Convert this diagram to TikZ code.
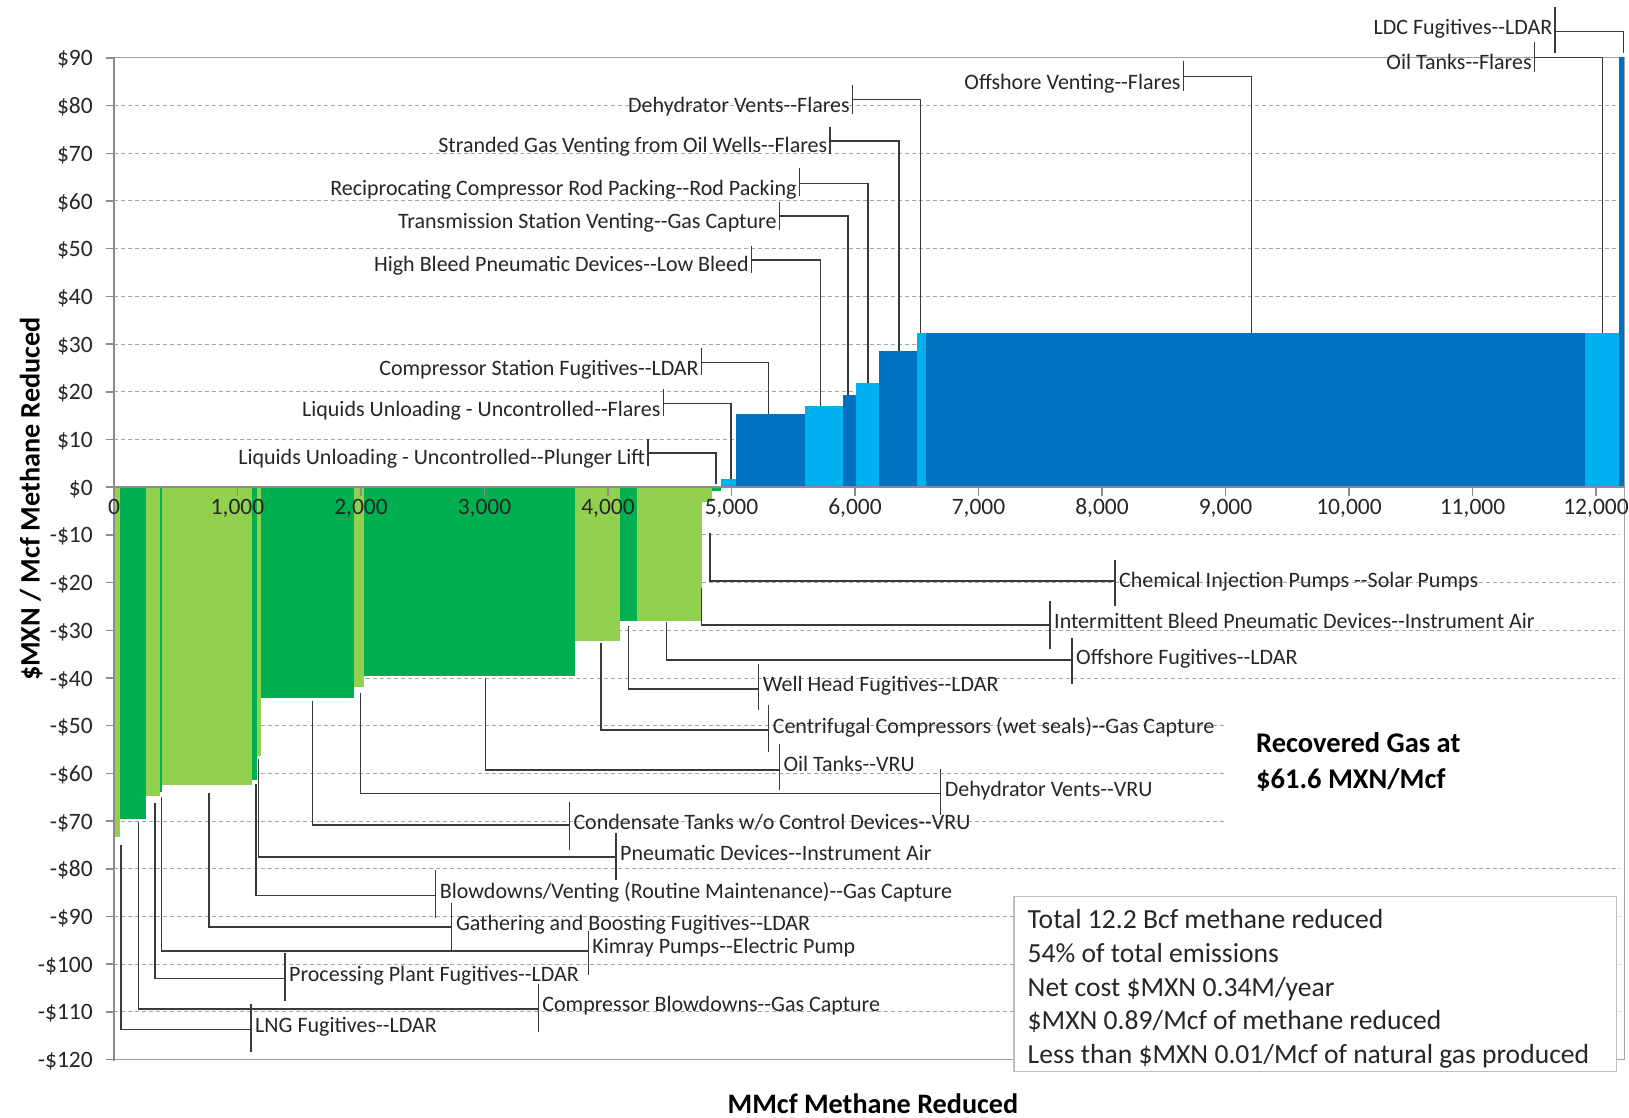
\documentclass[tikz,border=0pt]{standalone}
\usepackage{fontspec}
\setmainfont{Carlito}[Ligatures=TeXOff]
\definecolor{dgreen}{HTML}{00B050}
\definecolor{lgreen}{HTML}{92D050}
\definecolor{dblue}{HTML}{0070C0}
\definecolor{lblue}{HTML}{00B0F0}
\definecolor{axgray}{HTML}{8C8C8C}
\definecolor{grdgray}{HTML}{A6A6A6}
\definecolor{ldgray}{HTML}{3A3A3A}
\definecolor{txtgray}{HTML}{262626}
\newcommand{\lblsize}{\fontsize{22}{24}\selectfont}
\newcommand{\TopLbl}[9]{%
  \node[lbl, anchor=base east] (#1) at ({#3-2.5},#6) {#2};
  \coordinate (#1-tt) at (#3,#4);
  \coordinate (#1-tb) at (#3,#5);
  \coordinate (#1-j) at (#3,#7);
  \coordinate (#1-bar) at (#8,#9);
  \draw[tk] (#1-tt) -- (#1-tb);
  \draw[ld] (#1-j) -| (#1-bar);}
\newcommand{\BotLbl}[9]{%
  \node[lbl, anchor=base west] (#1) at ({#3+4},#6) {#2};
  \coordinate (#1-tt) at (#3,#4);
  \coordinate (#1-tb) at (#3,#5);
  \coordinate (#1-j) at (#3,#7);
  \coordinate (#1-bar) at (#8,#9);
  \draw[tk] (#1-tt) -- (#1-tb);
  \draw[ld] (#1-j) -| (#1-bar);}
\begin{document}
\begin{tikzpicture}[x=1pt,y=-1pt,
  lbl/.style={inner sep=0pt, font=\lblsize, text=txtgray},
  tk/.style={draw=ldgray, line width=1.3pt},
  ld/.style={draw=ldgray, line width=1.3pt},
  grid/.style={draw=grdgray, line width=1pt, dash pattern=on 4pt off 3pt},
  axline/.style={draw=axgray, line width=2.2pt},
  frameline/.style={draw=axgray!80, line width=1.5pt},
  ticklbl/.style={inner sep=0pt, font=\fontsize{23.5}{25}\selectfont, text=txtgray},
  title/.style={inner sep=0pt, font=\fontsize{28.2}{30}\selectfont\bfseries, text=black},
  boxtxt/.style={inner sep=0pt, anchor=base west, font=\fontsize{27.6}{30}\selectfont, text=txtgray},
  recov/.style={inner sep=0pt, anchor=base west, font=\fontsize{28.5}{30}\selectfont\bfseries, text=black}]
\useasboundingbox (0,0) rectangle (1629,1118);
\fill[white] (0,0) rectangle (1629,1118);

% gridlines
\foreach \c in {80,70,...,-110} {
  \draw[grid] (113.6,{487.2-4.77*\c}) -- (1620,{487.2-4.77*\c});
}

% negative (green) bars
\fill[lgreen] (114.5,487.2) rectangle (120.2,836.7);
\fill[dgreen] (120.2,487.2) rectangle (145.5,818.7);
\fill[lgreen] (145.5,487.2) rectangle (159.8,795.6);
\fill[dgreen] (159.8,487.2) rectangle (162.0,791.7);
\fill[lgreen] (162.0,487.2) rectangle (251.8,785.0);
\fill[dgreen] (251.8,487.2) rectangle (257.2,779.8);
\fill[lgreen] (257.2,487.2) rectangle (261.0,755.5);
\fill[dgreen] (261.0,487.2) rectangle (353.6,697.8);
\fill[lgreen] (353.6,487.2) rectangle (364.3,687.4);
\fill[dgreen] (364.3,487.2) rectangle (574.8,675.5);
\fill[lgreen] (574.8,487.2) rectangle (620.2,640.8);
\fill[dgreen] (620.2,487.2) rectangle (636.9,621.0);
\fill[lgreen] (636.9,487.2) rectangle (701.6,621.0);
\fill[lgreen] (701.6,487.2) rectangle (711.8,501.7);
\fill[dgreen] (711.8,487.2) rectangle (720.5,490.5);

% positive (blue) bars
\fill[lblue] (720.5,487.2) rectangle (735.7,478.5);
\fill[dblue] (735.7,487.2) rectangle (805.4,413.6);
\fill[lblue] (805.4,487.2) rectangle (842.9,406.0);
\fill[dblue] (842.9,487.2) rectangle (856.1,395.4);
\fill[lblue] (856.1,487.2) rectangle (879.3,383.2);
\fill[dblue] (879.3,487.2) rectangle (916.8,351.0);
\fill[lblue] (916.8,487.2) rectangle (925.7,332.9);
\fill[dblue] (925.7,487.2) rectangle (1585.3,332.9);
\fill[lblue] (1585.3,487.2) rectangle (1619.0,332.9);
\fill[dblue] (1619.0,487.2) rectangle (1624.5,57.3);

% white area behind the "Recovered Gas" note
\fill[white] (1227,688) rectangle (1620.5,848);

% plot frame and axes
\draw[frameline] (113.6,57.3) -- (1619,57.3);
\draw[frameline] (1624.5,57.3) -- (1624.5,1059.7);
\draw[frameline] (113.6,1059.7) -- (1624.5,1059.7);
\draw[axgray, line width=1.6pt] (113.6,487.2) -- (1624.5,487.2);
\draw[axline] (113.6,57.3) -- (113.6,1060.8);
\foreach \c in {90,80,...,-120} {
  \draw[axgray, line width=1.5pt] (106.4,{487.2-4.77*\c}) -- (113.6,{487.2-4.77*\c});
  \pgfmathtruncatemacro{\a}{abs(\c)}
  \node[ticklbl, anchor=base east] (yl\a\ifnum\c<0 n\fi) at (93,{487.2-4.77*\c+8}) {\ifnum\c<0 -\fi\$\a};
}
\foreach \v/\t in {0/0,1/{1,000},2/{2,000},3/{3,000},4/{4,000},5/{5,000},6/{6,000},7/{7,000},8/{8,000},9/{9,000},10/{10,000},11/{11,000},12/{12,000}} {
  \draw[axgray, line width=1.3pt] ({114+123.5*\v},487.2) -- ({114+123.5*\v},496);
  \node[ticklbl, anchor=base] (xl\v) at ({114+123.5*\v},514.5) {\t};
}

% axis titles
\node[title, rotate=90, anchor=base] (ytitle) at (39.5,499) {\$MXN / Mcf Methane Reduced};
\node[title, anchor=base] (xtitle) at (873,1113) {MMcf Methane Reduced};

% labels above the axis
\TopLbl{plunger}{Liquids Unloading - Uncontrolled--Plunger Lift}{647.9}{438.6}{466}{464.3}{452.9}{716}{484}
\TopLbl{liqfl}{Liquids Unloading - Uncontrolled--Flares}{663.2}{389}{416}{416}{403.6}{731}{478.6}
\TopLbl{compst}{Compressor Station Fugitives--LDAR}{701.4}{348}{375}{375}{362.5}{768.6}{413.6}
\TopLbl{highbl}{High Bleed Pneumatic Devices--Low Bleed}{751.4}{245.7}{273.2}{271.4}{260}{820.4}{406}
\TopLbl{transm}{Transmission Station Venting--Gas Capture}{779.3}{201.8}{230.4}{228.6}{216}{847.9}{395.4}
\TopLbl{recip}{Reciprocating Compressor Rod Packing--Rod Packing}{799.3}{167.9}{196.4}{195.7}{183.2}{867.9}{383.2}
\TopLbl{strand}{Stranded Gas Venting from Oil Wells--Flares}{830}{126.8}{154.3}{152.9}{141}{898.9}{351}
\TopLbl{dehyfl}{Dehydrator Vents--Flares}{852.5}{85}{113.6}{112.5}{99.3}{920.4}{332.9}
\TopLbl{offvent}{Offshore Venting--Flares}{1183.3}{61.4}{91}{89.3}{76.8}{1251.6}{332.9}
\TopLbl{oiltfl}{Oil Tanks--Flares}{1534.4}{42}{72}{70}{57.3}{1602.7}{332.9}
\TopLbl{ldc}{LDC Fugitives--LDAR}{1555}{6.7}{53.3}{35}{31.7}{1623.3}{53.3}

% labels below the axis
\BotLbl{chem}{Chemical Injection Pumps --Solar Pumps}{1115}{560}{606}{587}{581}{710}{533}
\BotLbl{interm}{Intermittent Bleed Pneumatic Devices--Instrument Air}{1050}{600.8}{648.7}{628.5}{625}{701.7}{588.3}
\BotLbl{offfug}{Offshore Fugitives--LDAR}{1072}{637.7}{683.8}{664.6}{660}{666.7}{621.7}
\BotLbl{wellh}{Well Head Fugitives--LDAR}{758.6}{663.5}{710.3}{691}{689}{628.3}{626}
\BotLbl{centr}{Centrifugal Compressors (wet seals)--Gas Capture}{768.6}{705}{752}{733.5}{730}{601}{643.3}
\BotLbl{oilvru}{Oil Tanks--VRU}{779.3}{743.5}{790}{771.5}{770}{485.7}{678.2}
\BotLbl{dehyvru}{Dehydrator Vents--VRU}{940.7}{769.3}{814.6}{796}{793.2}{360.7}{693}
\BotLbl{conds}{Condensate Tanks w/o Control Devices--VRU}{569.3}{801.7}{849.6}{829}{825}{312.5}{701.4}
\BotLbl{pneum}{Pneumatic Devices--Instrument Air}{616}{833}{880}{860.7}{857}{258.3}{759.3}
\BotLbl{blowd}{Blowdowns/Venting (Routine Maintenance)--Gas Capture}{435.7}{870}{918}{898.3}{895.7}{256}{784}
\BotLbl{gath}{Gathering and Boosting Fugitives--LDAR}{451.8}{903}{951}{930.7}{927}{209}{793.3}
\BotLbl{kimray}{Kimray Pumps--Electric Pump}{588.2}{930.7}{975}{953}{951}{161.8}{797.3}
\BotLbl{procp}{Processing Plant Fugitives--LDAR}{285}{952.8}{1000.7}{981.6}{978.6}{155}{802.7}
\BotLbl{compbl}{Compressor Blowdowns--Gas Capture}{538.2}{984}{1032}{1011}{1009}{138.3}{821.7}
\BotLbl{lng}{LNG Fugitives--LDAR}{251}{1003.7}{1052.3}{1032.8}{1029.5}{121}{845}

% recovered gas note
\node[recov] (rec1) at (1256,752.7) {Recovered Gas at};
\node[recov] (rec2) at (1256,788.3) {\$61.6 MXN/Mcf};

% summary box
\node[draw=black!25, line width=1.5pt, fill=white, minimum width=602.5pt, minimum height=175.1pt, inner sep=0pt, anchor=north west] (sumbox) at (1013.2,895.7) {};
\node[boxtxt] (s1) at (1027.5,928.9) {Total 12.2 Bcf methane reduced};
\node[boxtxt] (s2) at (1027.5,962.5) {54\% of total emissions};
\node[boxtxt] (s3) at (1027.5,996.1) {Net cost \$MXN 0.34M/year};
\node[boxtxt] (s4) at (1027.5,1029.7) {\$MXN 0.89/Mcf of methane reduced};
\node[boxtxt] (s5) at (1027.5,1063.3) {Less than \$MXN 0.01/Mcf of natural gas produced};
\end{tikzpicture}
\end{document}
